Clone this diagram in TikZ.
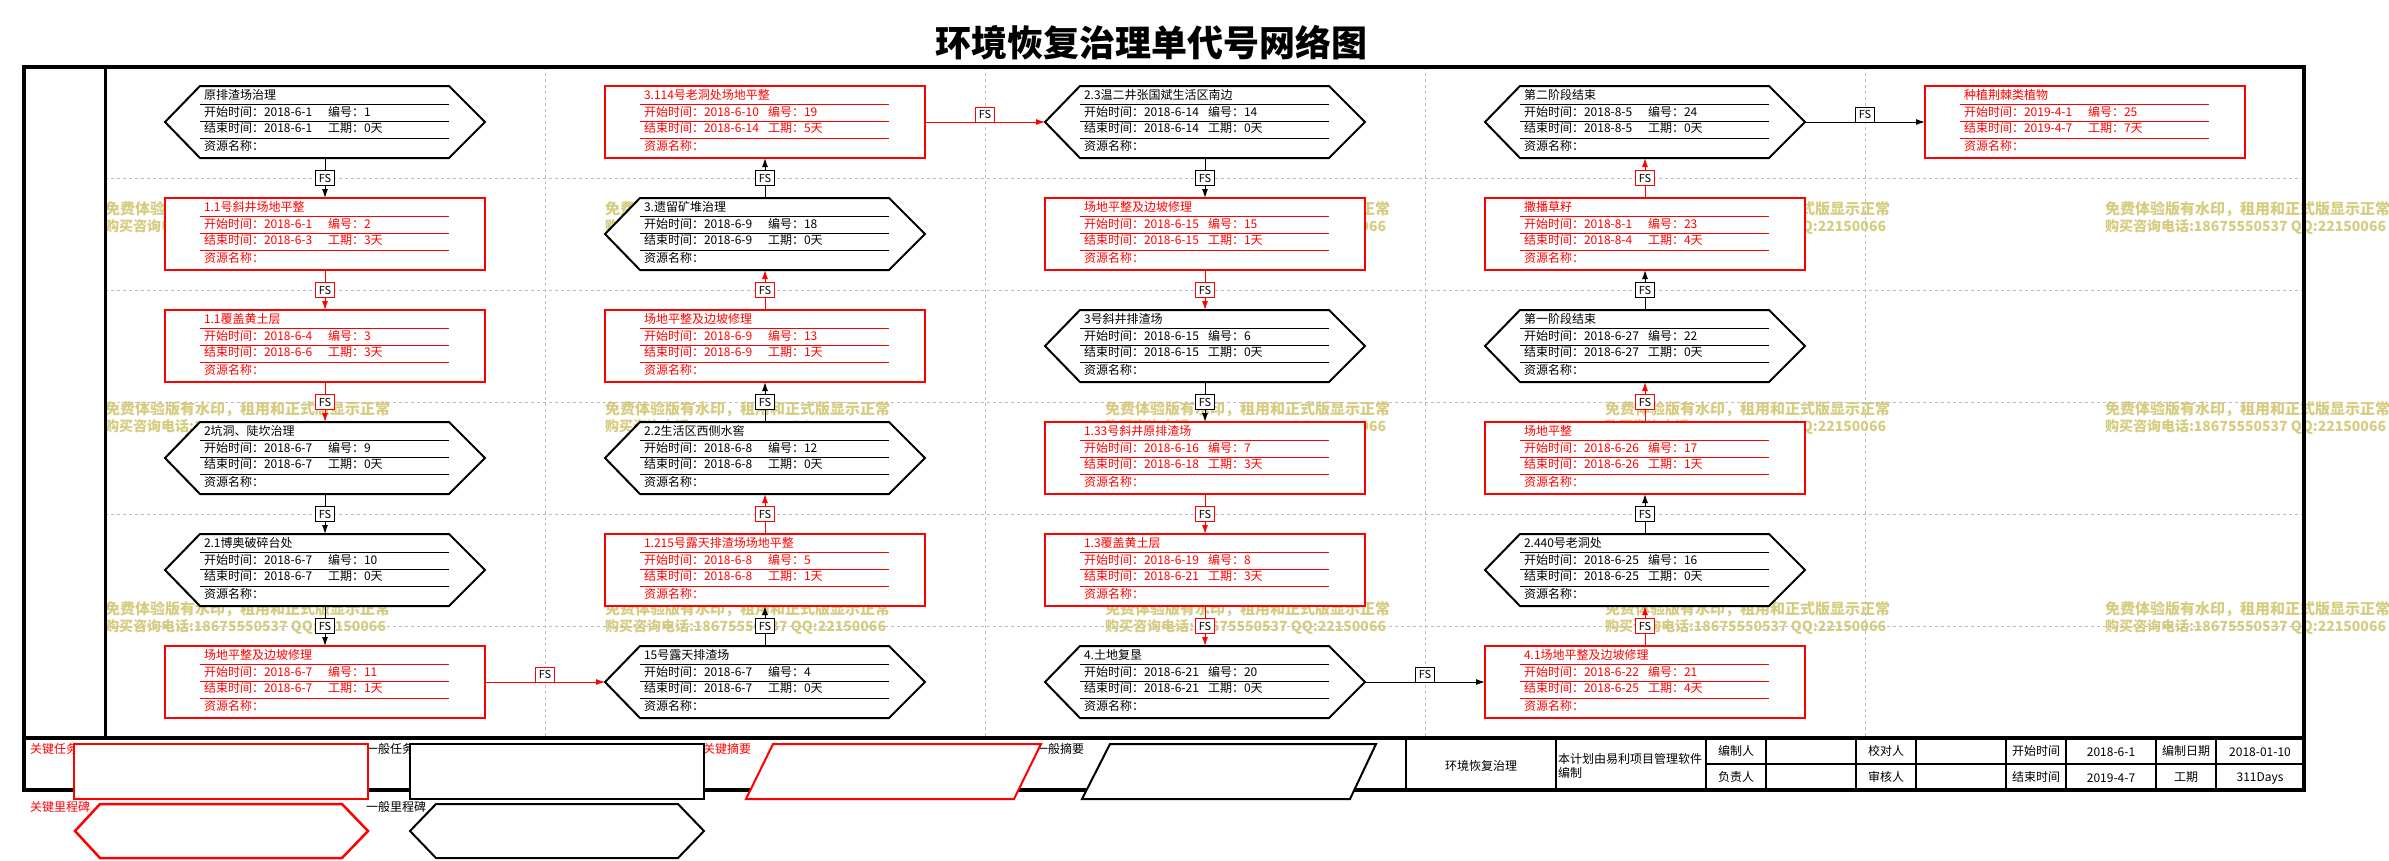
\documentclass[tikz,border=0pt]{standalone}
\usepackage{fontspec}
\setmainfont{Noto Sans CJK SC}
\usetikzlibrary{arrows.meta}
\definecolor{kred}{RGB}{255,0,0}
\definecolor{wmc}{RGB}{214,204,128}
\definecolor{gridc}{RGB}{190,190,190}
\tikzset{
  every node/.style={inner sep=0pt, outer sep=0pt},
  anchorbox/.style={minimum width=320pt, minimum height=72pt},
  txt/.style={anchor=west, font=\fontsize{12}{12}\selectfont},
  fsbox/.style={draw, fill=white, line width=1pt, minimum width=19pt, minimum height=15pt, font=\fontsize{11}{11}\selectfont, text=black},
  conn/.style={line width=1pt, -{Latex[length=9pt,width=6pt]}},
  gridline/.style={gridc, line width=1pt, dash pattern=on 3pt off 3pt},
  wmtext/.style={anchor=west, text=wmc, font=\fontsize{15}{15}\selectfont\bfseries},
  wmtextb/.style={anchor=west, text=wmc, font=\fontsize{14}{14}\selectfont\bfseries},
  legtxt/.style={anchor=west, font=\fontsize{12}{12}\selectfont},
  tbl/.style={font=\fontsize{12}{12}\selectfont},
}
\newcommand\nodeguts[6]{%
  \draw[#1, line width=1pt] (-125,-18) -- (124,-18) (-125,-1) -- (124,-1) (-125,16) -- (124,16);
  \node[txt, text=#1] at (-121,-27) {#2};
  \node[txt, text=#1] at (-121,-10) {开始时间：#3};
  \node[txt, text=#1] at (3,-10) {编号：#4};
  \node[txt, text=#1] at (-121,6) {结束时间：#5};
  \node[txt, text=#1] at (3,6) {工期：#6};
  \node[txt, text=#1] at (-121,24) {资源名称：};
}
\newcommand\hexnode[8]{%
  \node[anchorbox] (#1) at (#2,#3) {};
  \begin{scope}[shift={(#2,#3)}]
    \draw[black, line width=2pt, fill=white, line join=miter] (-160,0) -- (-125,-36) -- (124,-36) -- (160,0) -- (124,36) -- (-125,36) -- cycle;
    \nodeguts{black}{#4}{#5}{#6}{#7}{#8}
  \end{scope}}
\newcommand\boxnode[8]{%
  \node[anchorbox] (#1) at (#2,#3) {};
  \begin{scope}[shift={(#2,#3)}]
    \draw[kred, line width=2.2pt, fill=white] (-160,-36) rectangle (160,36);
    \nodeguts{kred}{#4}{#5}{#6}{#7}{#8}
  \end{scope}}
\newcommand\vconn[3]{%
  \draw[conn, #3] (#1) -- (#2) node[midway, fsbox, draw=#3] {FS};}
\newcommand\hconn[3]{%
  \draw[conn, #3] (#1.east) -- (#2.west) node[midway, fsbox, anchor=south, draw=#3] {FS};}
\begin{document}
\begin{tikzpicture}[x=1pt, y=-1pt]
\useasboundingbox (0,0) rectangle (2389,860);
% watermarks
\foreach \i in {0,...,4} {
  \foreach \j in {0,1,2} {
    \node[wmtext] (wma-\i-\j) at (105+500*\i, 209+200*\j) {免费体验版有水印，租用和正式版显示正常};
    \node[wmtextb] (wmb-\i-\j) at (105+500*\i, 227+200*\j) {购买咨询电话:18675550537 QQ:22150066};
  }
}
% grid
\foreach \gx in {545,985,1425,1865} { \draw[gridline] (\gx,67) -- (\gx,738); }
\foreach \gy in {178,290,402,514,626} { \draw[gridline] (105,\gy) -- (2304,\gy); }
% title
\node[font=\fontsize{36}{36}\selectfont\bfseries] (title) at (1151,43) {环境恢复治理单代号网络图};
% frame
\draw[line width=4.5pt, line join=miter] (24,67) -- (2304,67) -- (2304,790) -- (24,790) -- cycle;
\draw[line width=3.5pt] (24,738) -- (2304,738);
\draw[line width=3pt] (105,67) -- (105,738);
% column 1
\hexnode{c1r1}{325}{122}{原排渣场治理}{2018-6-1}{1}{2018-6-1}{0天}
\boxnode{c1r2}{325}{234}{1.1号斜井场地平整}{2018-6-1}{2}{2018-6-3}{3天}
\boxnode{c1r3}{325}{346}{1.1覆盖黄土层}{2018-6-4}{3}{2018-6-6}{3天}
\hexnode{c1r4}{325}{458}{2坑洞、陡坎治理}{2018-6-7}{9}{2018-6-7}{0天}
\hexnode{c1r5}{325}{570}{2.1博奥破碎台处}{2018-6-7}{10}{2018-6-7}{0天}
\boxnode{c1r6}{325}{682}{场地平整及边坡修理}{2018-6-7}{11}{2018-6-7}{1天}
% column 2
\boxnode{c2r1}{765}{122}{3.114号老洞处场地平整}{2018-6-10}{19}{2018-6-14}{5天}
\hexnode{c2r2}{765}{234}{3.遗留矿堆治理}{2018-6-9}{18}{2018-6-9}{0天}
\boxnode{c2r3}{765}{346}{场地平整及边坡修理}{2018-6-9}{13}{2018-6-9}{1天}
\hexnode{c2r4}{765}{458}{2.2生活区西侧水窖}{2018-6-8}{12}{2018-6-8}{0天}
\boxnode{c2r5}{765}{570}{1.215号露天排渣场场地平整}{2018-6-8}{5}{2018-6-8}{1天}
\hexnode{c2r6}{765}{682}{15号露天排渣场}{2018-6-7}{4}{2018-6-7}{0天}
% column 3
\hexnode{c3r1}{1205}{122}{2.3温二井张国斌生活区南边}{2018-6-14}{14}{2018-6-14}{0天}
\boxnode{c3r2}{1205}{234}{场地平整及边坡修理}{2018-6-15}{15}{2018-6-15}{1天}
\hexnode{c3r3}{1205}{346}{3号斜井排渣场}{2018-6-15}{6}{2018-6-15}{0天}
\boxnode{c3r4}{1205}{458}{1.33号斜井原排渣场}{2018-6-16}{7}{2018-6-18}{3天}
\boxnode{c3r5}{1205}{570}{1.3覆盖黄土层}{2018-6-19}{8}{2018-6-21}{3天}
\hexnode{c3r6}{1205}{682}{4.土地复垦}{2018-6-21}{20}{2018-6-21}{0天}
% column 4
\hexnode{c4r1}{1645}{122}{第二阶段结束}{2018-8-5}{24}{2018-8-5}{0天}
\boxnode{c4r2}{1645}{234}{撒播草籽}{2018-8-1}{23}{2018-8-4}{4天}
\hexnode{c4r3}{1645}{346}{第一阶段结束}{2018-6-27}{22}{2018-6-27}{0天}
\boxnode{c4r4}{1645}{458}{场地平整}{2018-6-26}{17}{2018-6-26}{1天}
\hexnode{c4r5}{1645}{570}{2.440号老洞处}{2018-6-25}{16}{2018-6-25}{0天}
\boxnode{c4r6}{1645}{682}{4.1场地平整及边坡修理}{2018-6-22}{21}{2018-6-25}{4天}
% column 5
\boxnode{c5r1}{2085}{122}{种植荆棘类植物}{2019-4-1}{25}{2019-4-7}{7天}
% connectors
\vconn{c1r1.south}{c1r2.north}{black}
\vconn{c1r2.south}{c1r3.north}{kred}
\vconn{c1r3.south}{c1r4.north}{kred}
\vconn{c1r4.south}{c1r5.north}{black}
\vconn{c1r5.south}{c1r6.north}{black}
\hconn{c1r6}{c2r6}{kred}
\vconn{c2r6.north}{c2r5.south}{black}
\vconn{c2r5.north}{c2r4.south}{kred}
\vconn{c2r4.north}{c2r3.south}{black}
\vconn{c2r3.north}{c2r2.south}{kred}
\vconn{c2r2.north}{c2r1.south}{black}
\hconn{c2r1}{c3r1}{kred}
\vconn{c3r1.south}{c3r2.north}{black}
\vconn{c3r2.south}{c3r3.north}{kred}
\vconn{c3r3.south}{c3r4.north}{black}
\vconn{c3r4.south}{c3r5.north}{kred}
\vconn{c3r5.south}{c3r6.north}{kred}
\hconn{c3r6}{c4r6}{black}
\vconn{c4r6.north}{c4r5.south}{kred}
\vconn{c4r5.north}{c4r4.south}{black}
\vconn{c4r4.north}{c4r3.south}{kred}
\vconn{c4r3.north}{c4r2.south}{black}
\vconn{c4r2.north}{c4r1.south}{kred}
\hconn{c4r1}{c5r1}{black}
% legend
\node[legtxt, text=kred] (lg1) at (30,749) {关键任务};
\node[legtxt] (lg2) at (366,749) {一般任务};
\node[legtxt, text=kred] (lg3) at (703,749) {关键摘要};
\node[legtxt] (lg4) at (1036,749) {一般摘要};
\node[legtxt, text=kred] (lg5) at (30,807) {关键里程碑};
\node[legtxt] (lg6) at (366,807) {一般里程碑};
\draw[kred, line width=2.5pt, fill=white] (74,744) rectangle (368,799);
\draw[black, line width=2.5pt, fill=white] (410,744) rectangle (704,799);
\draw[kred, line width=2pt, fill=white] (773,744) -- (1041,744) -- (1014,799) -- (746,799) -- cycle;
\draw[black, line width=2pt, fill=white] (1110,744) -- (1376,744) -- (1350,799) -- (1082,799) -- cycle;
\draw[kred, line width=2.5pt, fill=white] (75,831) -- (100,804) -- (342,804) -- (368,831) -- (342,858) -- (100,858) -- cycle;
\draw[black, line width=2pt, fill=white] (410,831) -- (436,804) -- (678,804) -- (704,831) -- (678,858) -- (436,858) -- cycle;
% table
\draw[line width=2.5pt] (1406,738) -- (1406,790);
\foreach \tx in {1556,1706,1766,1856,1916,2006,2066,2156,2216} { \draw[line width=1.5pt] (\tx,738) -- (\tx,790); }
\draw[line width=1.5pt] (1706,764) -- (2304,764);
\node[tbl] (t1) at (1481,766) {环境恢复治理};
\node[tbl, anchor=west] (t2) at (1558,759) {本计划由易利项目管理软件};
\node[tbl, anchor=west] (t3) at (1558,773) {编制};
\node[tbl] (t4) at (1736,751) {编制人};
\node[tbl] (t5) at (1736,777) {负责人};
\node[tbl] (t6) at (1886,751) {校对人};
\node[tbl] (t7) at (1886,777) {审核人};
\node[tbl] (t8) at (2036,751) {开始时间};
\node[tbl] (t9) at (2036,777) {结束时间};
\node[tbl] (t10) at (2111,752) {2018-6-1};
\node[tbl] (t11) at (2111,778) {2019-4-7};
\node[tbl] (t12) at (2186,751) {编制日期};
\node[tbl] (t13) at (2186,777) {工期};
\node[tbl] (t14) at (2260,752) {2018-01-10};
\node[tbl] (t15) at (2260,778) {311Days};
\end{tikzpicture}
\end{document}
